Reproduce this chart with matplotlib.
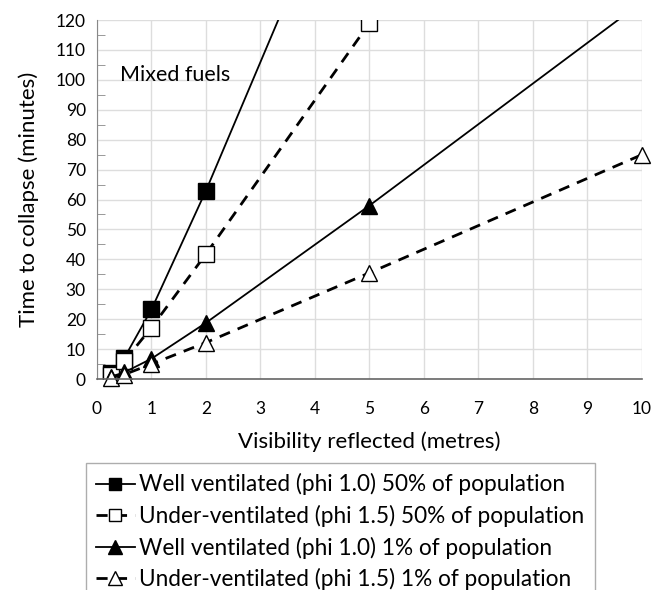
import matplotlib
matplotlib.use("Agg")
import matplotlib.pyplot as plt
from matplotlib.ticker import MultipleLocator

plt.rcParams['font.family'] = ['Lato', 'DejaVu Sans']

# visibility (m) vs time to collapse (min)
vis = [0.25, 0.5, 1, 2, 5, 10]
well_50 = [2.0, 7.0, 23.3, 63.0, 192.0, 420.0]
under_50 = [1.5, 6.0, 17.2, 41.8, 119.0]
well_1 = [0.8, 2.2, 6.8, 18.8, 58.0, 126.0]
under_1 = [0.5, 1.5, 5.0, 12.2, 35.5, 75.0]

labels = [
    "Well ventilated (phi 1.0) 50% of population",
    "Under-ventilated (phi 1.5) 50% of population",
    "Well ventilated (phi 1.0) 1% of population",
    "Under-ventilated (phi 1.5) 1% of population",
]

fig = plt.figure(figsize=(6.67, 5.90), dpi=100)
ax = fig.add_axes([0.1454, 0.3576, 0.8171, 0.6084])

ms = 11
ax.plot(vis, well_50, '-', color='black', lw=1.3, marker='s', ms=ms,
        mfc='black', mec='black', label=labels[0])
ax.plot(vis[:len(under_50)], under_50, '--', color='black', lw=2, dashes=(4, 3),
        marker='s', ms=ms, mfc='white', mec='black', mew=1, label=labels[1])
ax.plot(vis, well_1, '-', color='black', lw=1.3, marker='^', ms=ms + 1,
        mfc='black', mec='black', label=labels[2])
ax.plot(vis, under_1, '--', color='black', lw=2, dashes=(4, 3),
        marker='^', ms=ms + 1, mfc='white', mec='black', mew=1, label=labels[3],
        clip_on=False)

ax.set_xlim(0, 10)
ax.set_ylim(0, 120)
ax.xaxis.set_major_locator(MultipleLocator(1))
ax.yaxis.set_major_locator(MultipleLocator(10))
ax.yaxis.set_minor_locator(MultipleLocator(5))
ax.grid(True, which='major', color='#dddddd', lw=1)
ax.set_axisbelow(True)

for s in ['top', 'right']:
    ax.spines[s].set_visible(False)
ax.spines['left'].set_color('#888888')
ax.spines['bottom'].set_color('#666666')
ax.spines['bottom'].set_linewidth(1.2)
ax.tick_params(axis='y', which='both', direction='in', length=6, color='#888888',
               labelsize=12.5, pad=8)
ax.tick_params(axis='y', which='major', length=0)
ax.tick_params(axis='x', length=0, labelsize=12.5, pad=16)

ax.set_xlabel("Visibility reflected (metres)", fontsize=16, labelpad=10)
ax.set_ylabel("Time to collapse (minutes)", fontsize=16, labelpad=12)
ax.text(0.42, 101.5, "Mixed fuels", fontsize=15.5, va='center')

leg = fig.legend(loc='upper left', bbox_to_anchor=(0.129, 0.215), ncol=1,
                 fontsize=16.3, frameon=True, fancybox=False, edgecolor='#999999',
                 handlelength=1.7, handletextpad=0.2, borderpad=0.45,
                 borderaxespad=0, labelspacing=0.42, markerscale=0.8)
leg.get_frame().set_linewidth(1)

fig.savefig("out.png", dpi=100)
